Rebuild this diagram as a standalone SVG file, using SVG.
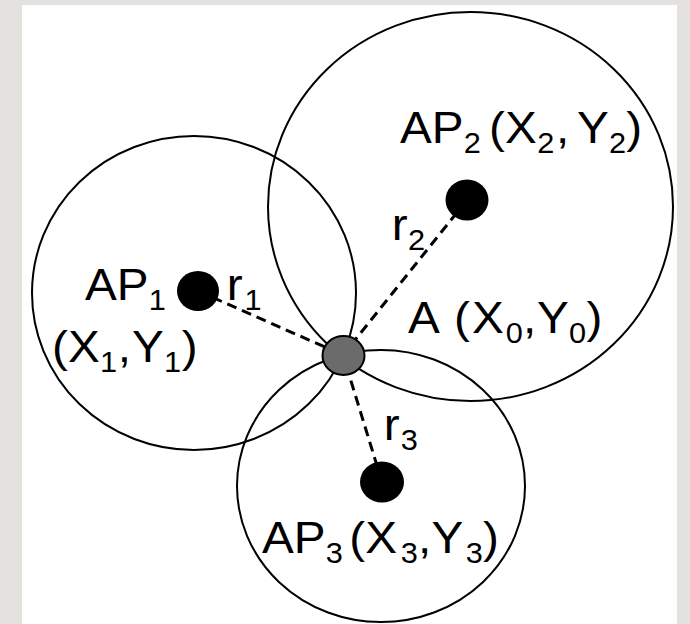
<svg xmlns="http://www.w3.org/2000/svg" width="690" height="624" viewBox="0 0 690 624">
<style>
.rng{fill:none;stroke:#000;stroke-width:2}
.ap{fill:#000}
.dash{stroke:#000;stroke-width:3;stroke-dasharray:10 6;fill:none}
.t{font-family:"Liberation Sans",Arial,Helvetica,sans-serif;font-size:45px;fill:#000}
.s{font-size:29px}
</style>
<rect x="0" y="0" width="690" height="624" fill="#e4e2de"/>
<rect x="22" y="5" width="655" height="619" fill="#ffffff"/>
<g id="circles">
<ellipse id="range1" class="rng" cx="194" cy="293" rx="162" ry="157"/>
<ellipse id="range2" class="rng" cx="470.5" cy="206.5" rx="202.5" ry="194.5"/>
<ellipse id="range3" class="rng" cx="381" cy="486" rx="144" ry="136"/>
</g>
<g id="connectors">
<line class="dash" x1="198" y1="291" x2="343" y2="355"/>
<line class="dash" x1="467" y1="200" x2="343" y2="355"/>
<line class="dash" x1="382" y1="482" x2="343" y2="355"/>
</g>
<g id="AP1">
<ellipse class="ap" cx="198" cy="291" rx="21" ry="20"/>
<text class="t" transform="translate(85,300) scale(1.06,1)"><tspan x="0" y="0">AP</tspan><tspan class="s" x="60.2" y="10">1</tspan></text>
<text class="t" transform="translate(52,362) scale(1.06,1)"><tspan x="0" y="0">(</tspan><tspan x="15.1" y="0">X</tspan><tspan class="s" x="45.2" y="10">1</tspan><tspan x="62.1" y="0">,</tspan><tspan x="75.5" y="0">Y</tspan><tspan class="s" x="105.6" y="10">1</tspan><tspan x="122.3" y="0">)</tspan></text>
<text class="t" transform="translate(226.8,300) scale(1.06,1)"><tspan x="0" y="0">r</tspan><tspan class="s" x="16.8" y="10">1</tspan></text>
</g>
<g id="AP2">
<ellipse class="ap" cx="467" cy="200" rx="21.5" ry="20.5"/>
<text class="t" transform="translate(400,143) scale(1.06,1)"><tspan x="0" y="0">AP</tspan><tspan class="s" x="60.2" y="10">2</tspan><tspan x="84" y="0">(</tspan><tspan x="99.1" y="0">X</tspan><tspan class="s" x="129.5" y="10">2</tspan><tspan x="147.2" y="0">,</tspan><tspan x="167" y="0">Y</tspan><tspan class="s" x="197.1" y="10">2</tspan><tspan x="213.4" y="0">)</tspan></text>
<text class="t" transform="translate(391.8,240) scale(1.06,1)"><tspan x="0" y="0">r</tspan><tspan class="s" x="15.2" y="10">2</tspan></text>
</g>
<g id="AP3">
<ellipse class="ap" cx="382" cy="482" rx="22" ry="20.5"/>
<text class="t" transform="translate(262,553) scale(1.06,1)"><tspan x="0" y="0">AP</tspan><tspan class="s" x="60.2" y="10">3</tspan><tspan x="82.3" y="0">(</tspan><tspan x="97.4" y="0">X</tspan><tspan class="s" x="130.9" y="10">3</tspan><tspan x="147.2" y="0">,</tspan><tspan x="159.8" y="0">Y</tspan><tspan class="s" x="192.2" y="10">3</tspan><tspan x="208.5" y="0">)</tspan></text>
<text class="t" transform="translate(383.8,440) scale(1.06,1)"><tspan x="0" y="0">r</tspan><tspan class="s" x="16" y="10">3</tspan></text>
</g>
<g id="A">
<ellipse cx="343.5" cy="355.5" rx="21" ry="19.5" fill="#6b6b6b" stroke="#000" stroke-width="2"/>
<text class="t" transform="translate(408,333) scale(1.06,1)"><tspan x="0" y="0">A</tspan><tspan x="43.5" y="0">(</tspan><tspan x="60.4" y="0">X</tspan><tspan class="s" x="92.2" y="10">0</tspan><tspan x="108.5" y="0">,</tspan><tspan x="121.7" y="0">Y</tspan><tspan class="s" x="151.9" y="10">0</tspan><tspan x="168.5" y="0">)</tspan></text>
</g>
</svg>
